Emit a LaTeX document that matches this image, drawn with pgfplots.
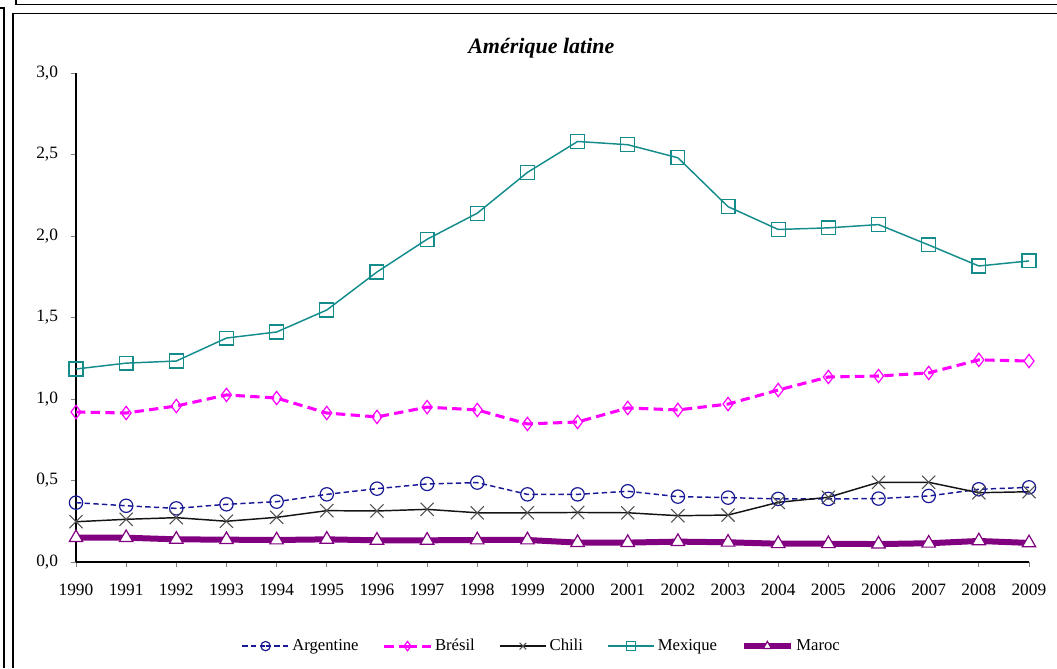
\documentclass[border=0pt]{standalone}
\usepackage{pgfplots}
\pgfplotsset{compat=1.18}
\usepackage{fontspec}
\setmainfont{Liberation Serif}
\definecolor{argc}{RGB}{25,25,150}
\definecolor{brac}{RGB}{255,0,255}
\definecolor{chic}{RGB}{20,20,20}
\definecolor{chim}{RGB}{80,80,80}
\definecolor{mexc}{RGB}{20,140,140}
\definecolor{marc}{RGB}{128,0,128}
\begin{document}
\begin{tikzpicture}
\useasboundingbox (0pt,0pt) rectangle (792.75pt,501pt);
% frames
\draw[line width=1.2pt] (12pt,501pt)--(12pt,497.6pt)--(792.75pt,497.6pt);
\draw[line width=1.2pt] (0pt,495pt)--(3pt,495pt)--(3pt,0pt);
\draw[line width=1.2pt] (9.75pt,0pt)--(9.75pt,491pt)--(792.75pt,491pt);
\node[font=\fontsize{16.5}{18}\selectfont\bfseries\itshape] at (406pt,465pt) {Amérique latine};
\begin{axis}[
  at={(57pt,79.5pt)}, anchor=origin,
  scale only axis, width=714.75pt, height=366.75pt,
  xmin=1990, xmax=2009, ymin=0, ymax=3,
  axis x line=bottom, axis y line=left,
  axis line style={-, line width=0.8pt},
  xtick={1990,...,2009}, ytick={0,0.5,...,3},
  tick align=outside, major tick length=4pt,
  tick style={line width=0.6pt, color=gray},
  x tick label style={/pgf/number format/1000 sep={}, font=\fontsize{13}{15}\selectfont, yshift=-9pt},
  y tick label style={/pgf/number format/.cd, use comma, fixed, fixed zerofill, precision=1, /tikz/.cd, font=\fontsize{13}{15}\selectfont, xshift=-6pt},
  /pgf/number format/assume math mode=true,
  clip=false,
  legend columns=5,
  legend style={draw=none, at={(0.489,-0.172)}, anchor=center, font=\fontsize{12.5}{14}\selectfont,
    /tikz/every even column/.append style={column sep=16pt}},
  legend image code/.code={\draw[#1] (0pt,0pt)--(17.5pt,0pt) (17.5pt,0pt)--(35pt,0pt); \draw[#1, solid, mark size=3.5pt] plot coordinates {(17.5pt,0pt)};},
]
\addplot[argc, dash pattern=on 4pt off 2.5pt, line width=1.1pt, mark=o, mark size=5pt, mark options={solid, line width=0.9pt, fill=none}] coordinates {
(1990,0.364)(1991,0.345)(1992,0.329)(1993,0.354)(1994,0.370)(1995,0.415)(1996,0.450)(1997,0.479)(1998,0.487)(1999,0.415)
(2000,0.415)(2001,0.434)(2002,0.401)(2003,0.395)(2004,0.387)(2005,0.387)(2006,0.389)(2007,0.405)(2008,0.446)(2009,0.458)};
\addlegendentry{Argentine}
\addplot[brac, dash pattern=on 7pt off 4pt, line width=2.3pt, mark=diamond, mark size=5pt, mark options={solid, line width=0.9pt, fill=none}] coordinates {
(1990,0.920)(1991,0.914)(1992,0.957)(1993,1.025)(1994,1.006)(1995,0.914)(1996,0.890)(1997,0.950)(1998,0.933)(1999,0.847)
(2000,0.859)(2001,0.945)(2002,0.933)(2003,0.969)(2004,1.055)(2005,1.135)(2006,1.141)(2007,1.160)(2008,1.240)(2009,1.233)};
\addlegendentry{Brésil}
\addplot[chic, line width=1.1pt, mark=x, mark size=7pt, mark options={chim, line width=0.8pt}] coordinates {
(1990,0.247)(1991,0.262)(1992,0.272)(1993,0.250)(1994,0.274)(1995,0.315)(1996,0.313)(1997,0.323)(1998,0.302)(1999,0.302)
(2000,0.304)(2001,0.302)(2002,0.284)(2003,0.288)(2004,0.366)(2005,0.397)(2006,0.489)(2007,0.489)(2008,0.425)(2009,0.431)};
\addlegendentry{Chili}
\addplot[mexc, line width=1.1pt, mark=square, mark size=5.2pt, mark options={line width=0.9pt, fill=none}] coordinates {
(1990,1.184)(1991,1.220)(1992,1.233)(1993,1.374)(1994,1.411)(1995,1.546)(1996,1.779)(1997,1.980)(1998,2.140)(1999,2.390)
(2000,2.580)(2001,2.560)(2002,2.480)(2003,2.180)(2004,2.040)(2005,2.050)(2006,2.070)(2007,1.945)(2008,1.816)(2009,1.847)};
\addlegendentry{Mexique}
\addplot[marc, line width=4.5pt, mark=triangle*, mark size=5.8pt, mark options={line width=0.9pt, draw=marc, fill=white}] coordinates {
(1990,0.149)(1991,0.149)(1992,0.139)(1993,0.137)(1994,0.135)(1995,0.139)(1996,0.133)(1997,0.133)(1998,0.135)(1999,0.135)
(2000,0.119)(2001,0.119)(2002,0.125)(2003,0.121)(2004,0.112)(2005,0.112)(2006,0.110)(2007,0.115)(2008,0.129)(2009,0.117)};
\addlegendentry{Maroc}
\end{axis}
\end{tikzpicture}
\end{document}
